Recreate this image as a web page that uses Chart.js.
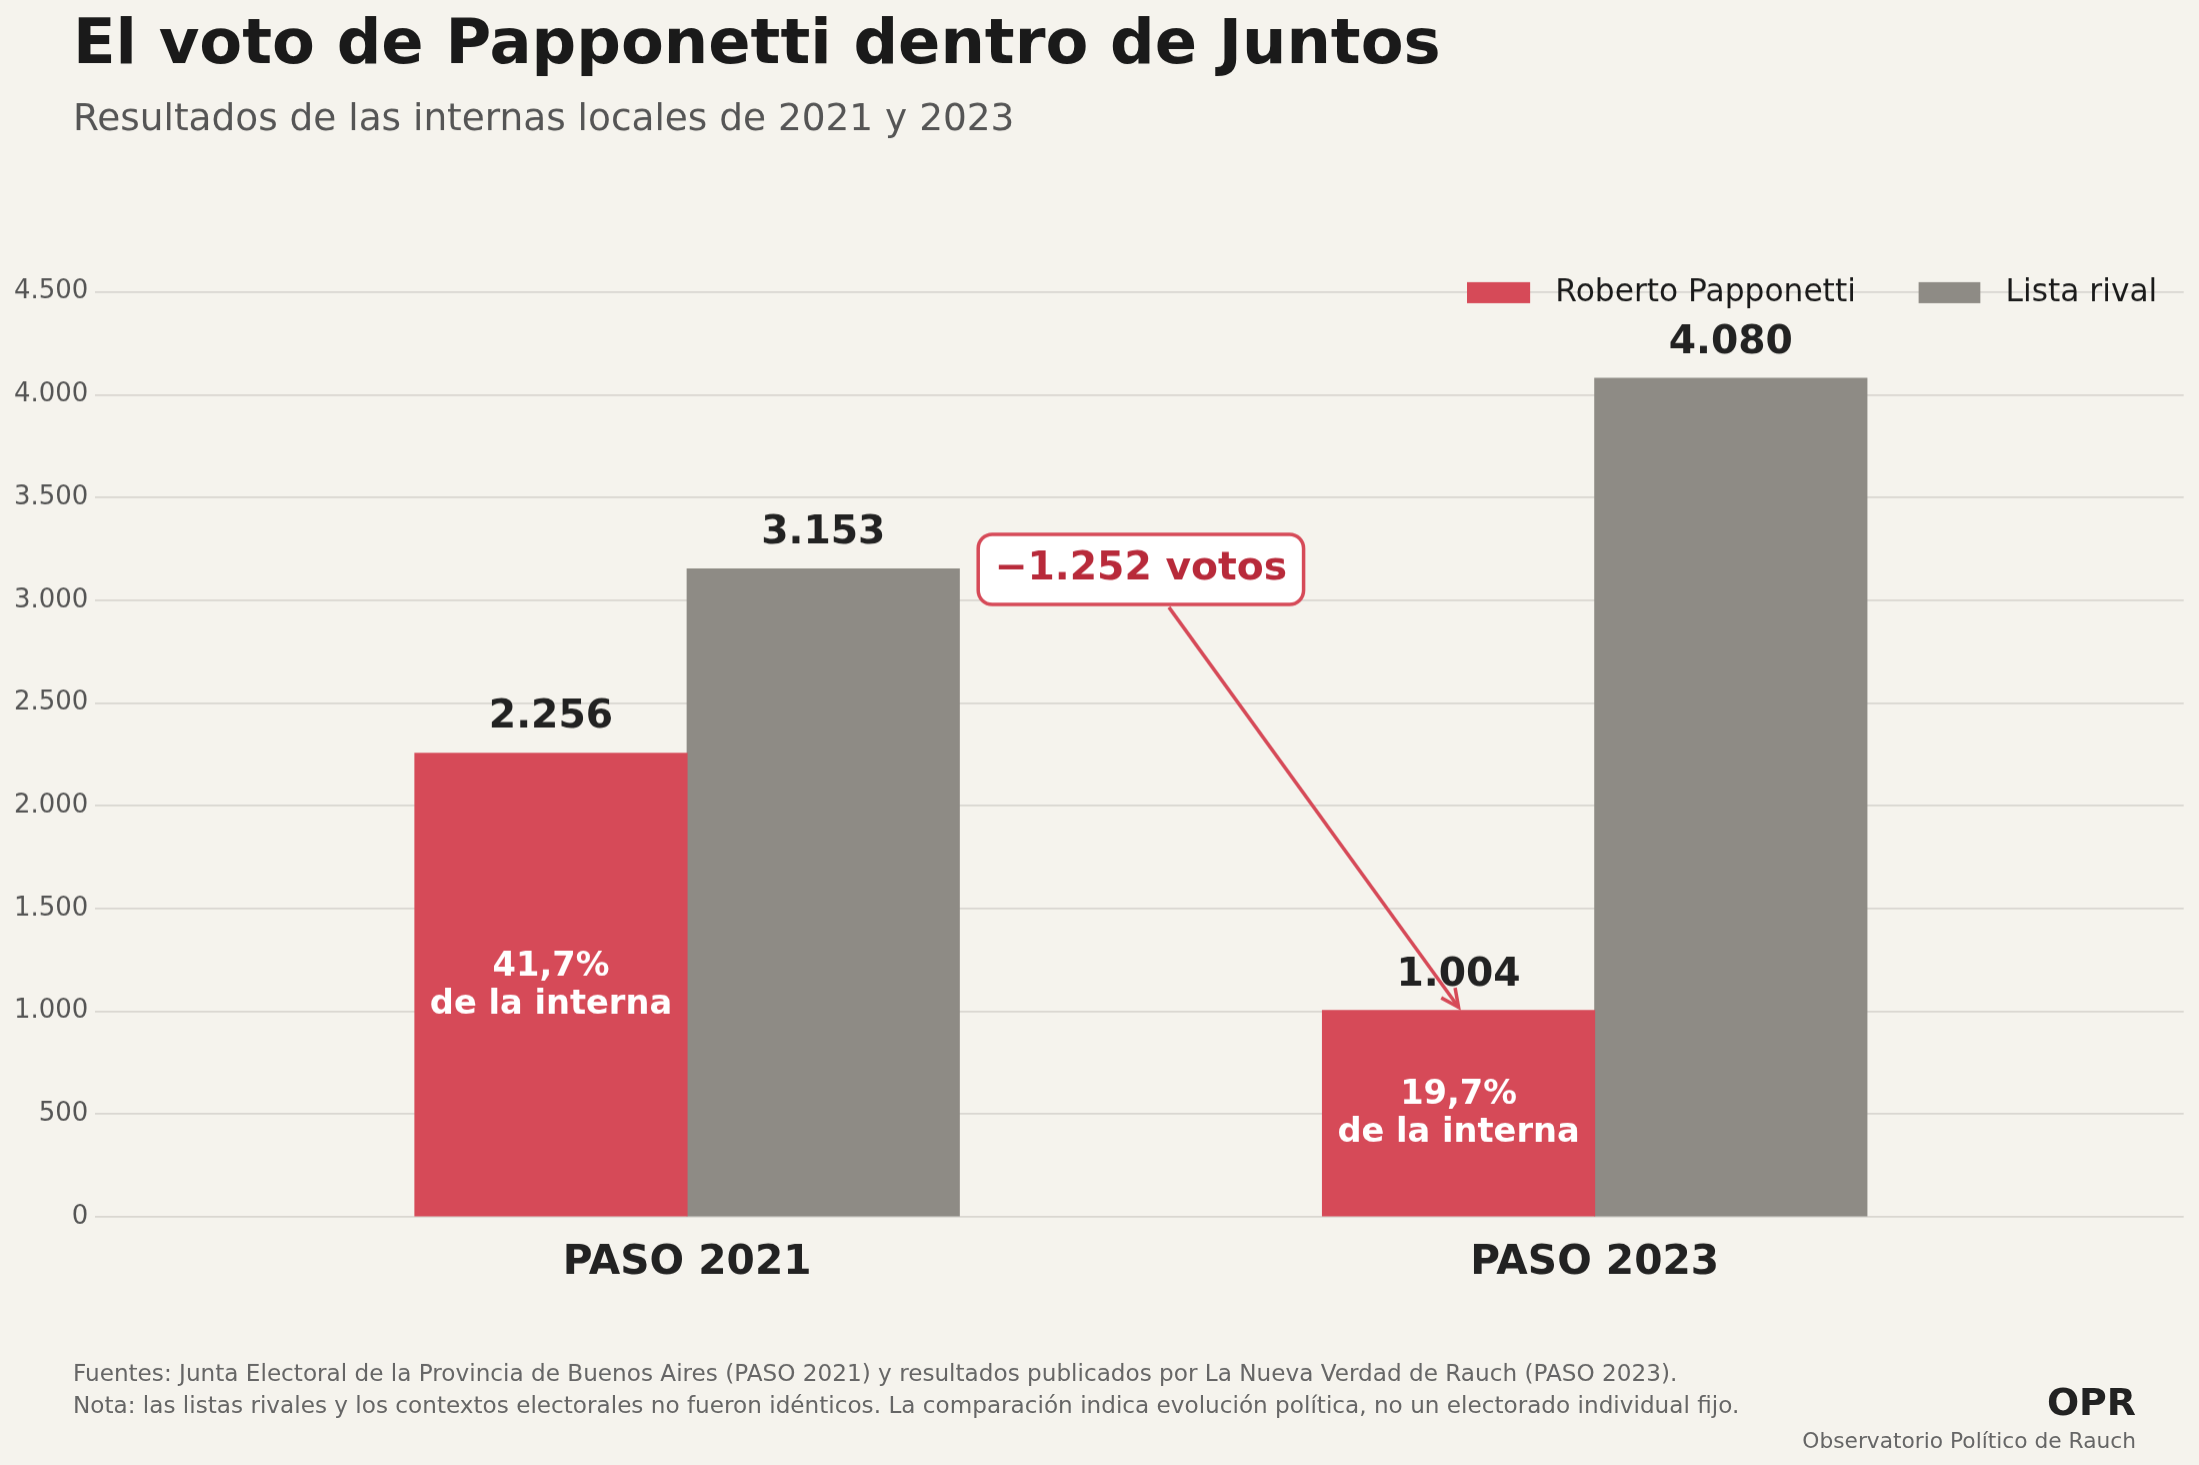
<!DOCTYPE html>
<html><head><meta charset="utf-8">
<script src="https://cdn.jsdelivr.net/npm/chart.js@4/dist/chart.umd.min.js"></script>
<style>
html,body{margin:0;padding:0;background:#f5f3ed;overflow:hidden}
#wrap{width:1568px;height:1045px;zoom:1.4025}
</style></head>
<body><div id="wrap"><canvas id="c" width="1568" height="1045"></canvas></div>
<script>
const categories = ['PASO 2021', 'PASO 2023'];
const papponetti = [2256, 1004];
const rival = [3153, 4080];
const shares = ['41,7%', '19,7%'];
const yTicks = [0, 500, 1000, 1500, 2000, 2500, 3000, 3500, 4000, 4500];
const diffLabel = '\u22121.252 votos';

const RED = '#d64a58', GRAY = '#8e8b85', FONT = '"DejaVu Sans", sans-serif';
const fmt = v => v.toString().replace(/\B(?=(\d{3})+(?!\d))/g, '.');
const pts = arr => arr.map((v, i) => ({ x: i, y: v }));

const overlay = {
  id: 'overlay',
  afterDraw(chart) {
    const ctx = chart.ctx, xs = chart.scales.x, ys = chart.scales.y;
    ctx.save();
    // titles
    ctx.fillStyle = '#1a1a1a'; ctx.textAlign = 'left'; ctx.textBaseline = 'alphabetic';
    ctx.font = 'bold 44.5px ' + FONT; ctx.fillText('El voto de Papponetti dentro de Juntos', 52, 45);
    ctx.fillStyle = '#555'; ctx.font = '26.7px ' + FONT;
    ctx.fillText('Resultados de las internas locales de 2021 y 2023', 52, 93);
    // legend
    ctx.font = '22.3px ' + FONT; ctx.textBaseline = 'middle'; ctx.fillStyle = RED;
    ctx.fillRect(1046, 201, 45, 15); ctx.fillStyle = '#1a1a1a'; ctx.fillText('Roberto Papponetti', 1109, 209);
    ctx.fillStyle = GRAY; ctx.fillRect(1368, 201, 44, 15); ctx.fillStyle = '#1a1a1a'; ctx.fillText('Lista rival', 1430, 209);
    // x category labels
    ctx.textAlign = 'center'; ctx.fillStyle = '#222'; ctx.font = 'bold 29px ' + FONT;
    categories.forEach((c, i) => ctx.fillText(c, xs.getPixelForValue(i), 900));
    // value labels
    ctx.textBaseline = 'alphabetic'; ctx.font = 'bold 28px ' + FONT;
    [0, 1].forEach(d => {
      chart.getDatasetMeta(d).data.forEach((bar, i) => {
        const v = d === 0 ? papponetti[i] : rival[i];
        ctx.fillText(fmt(v), bar.x, bar.y - 18);
      });
    });
    // share labels
    ctx.fillStyle = '#fff'; ctx.font = 'bold 24px ' + FONT; ctx.textBaseline = 'middle';
    chart.getDatasetMeta(0).data.forEach((bar, i) => {
      const mid = ys.getPixelForValue(papponetti[i] / 2);
      ctx.fillText(shares[i], bar.x, mid - 13);
      ctx.fillText('de la interna', bar.x, mid + 14);
    });
    // annotation
    const bx = xs.getPixelForValue(0.5), by = ys.getPixelForValue(3150);
    const end = chart.getDatasetMeta(0).data[1];
    const ex = end.x, ey = ys.getPixelForValue(1020), sx = bx + 20, sy = by + 27;
    ctx.strokeStyle = RED; ctx.lineWidth = 2.5;
    ctx.beginPath(); ctx.moveTo(sx, sy); ctx.lineTo(ex, ey); ctx.stroke();
    const ang = Math.atan2(ey - sy, ex - sx);
    ctx.beginPath();
    ctx.moveTo(ex - 14 * Math.cos(ang - 0.45), ey - 14 * Math.sin(ang - 0.45));
    ctx.lineTo(ex, ey);
    ctx.lineTo(ex - 14 * Math.cos(ang + 0.45), ey - 14 * Math.sin(ang + 0.45));
    ctx.stroke();
    ctx.fillStyle = '#fff'; ctx.beginPath(); ctx.roundRect(bx - 116, by - 25, 232, 50, 10); ctx.fill(); ctx.stroke();
    ctx.fillStyle = '#b82a3a'; ctx.font = 'bold 28px ' + FONT; ctx.fillText(diffLabel, bx, by);
    // footer
    ctx.textAlign = 'left'; ctx.textBaseline = 'alphabetic'; ctx.fillStyle = '#666'; ctx.font = '16.5px ' + FONT;
    ctx.fillText('Fuentes: Junta Electoral de la Provincia de Buenos Aires (PASO 2021) y resultados publicados por La Nueva Verdad de Rauch (PASO 2023).', 52, 984);
    ctx.fillText('Nota: las listas rivales y los contextos electorales no fueron idénticos. La comparación indica evolución política, no un electorado individual fijo.', 52, 1007);
    ctx.textAlign = 'right'; ctx.fillStyle = '#222'; ctx.font = 'bold 27px ' + FONT; ctx.fillText('OPR', 1523, 1008);
    ctx.fillStyle = '#666'; ctx.font = '15.5px ' + FONT; ctx.fillText('Observatorio Político de Rauch', 1523, 1032);
    ctx.restore();
  }
};

const chart = new Chart(document.getElementById('c'), {
  type: 'bar',
  data: {
    datasets: [
      { label: 'Roberto Papponetti', data: pts(papponetti), backgroundColor: RED },
      { label: 'Lista rival', data: pts(rival), backgroundColor: GRAY }
    ]
  },
  options: {
    responsive: false, animation: false, devicePixelRatio: 1.4025 * (window.devicePixelRatio || 1),
    categoryPercentage: 0.6, barPercentage: 1,
    layout: { padding: { left: 0, top: 208, right: 11, bottom: 0 } },
    plugins: { legend: { display: false }, tooltip: { enabled: false } },
    scales: {
      x: {
        type: 'linear', min: -0.652, max: 1.649, offset: false,
        grid: { display: false }, border: { display: false },
        ticks: { display: false },
        afterFit(s) { s.height = 178; }
      },
      y: {
        min: 0, max: 4500,
        grid: { color: '#d9d6d0', lineWidth: 1.2, drawTicks: false }, border: { display: false },
        afterBuildTicks(s) { s.ticks = yTicks.map(v => ({ value: v })); },
        ticks: { color: '#555', font: { family: FONT, size: 18.5 }, padding: 5, callback: v => fmt(v) },
        afterFit(s) { s.width = 68; }
      }
    }
  },
  plugins: [overlay]
});
// each bar takes 30% of the distance between the two groups
const step = chart.scales.x.getPixelForValue(1) - chart.scales.x.getPixelForValue(0);
chart.data.datasets.forEach(ds => { ds.barThickness = step * 0.3; });
chart.update();
</script></body></html>
